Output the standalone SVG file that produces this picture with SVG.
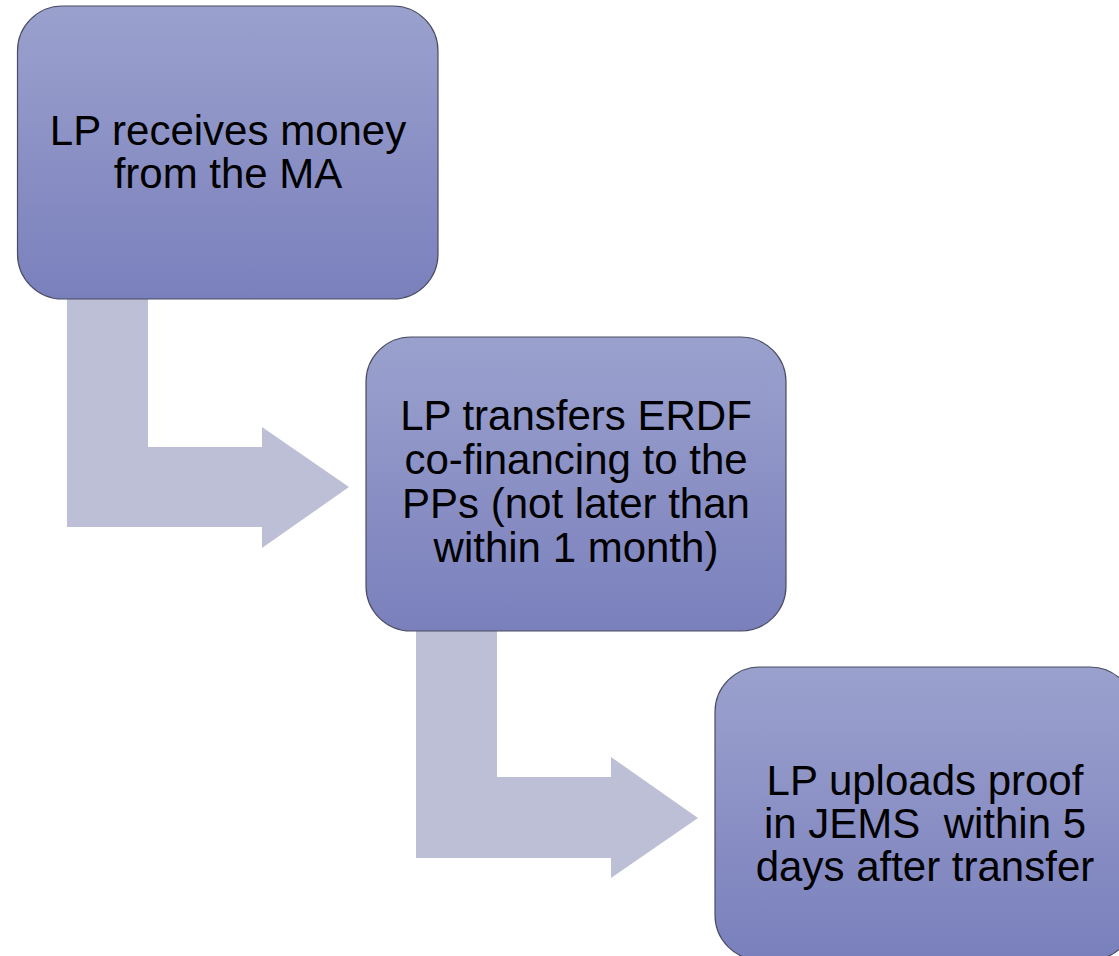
<svg xmlns="http://www.w3.org/2000/svg" width="1119" height="956" viewBox="0 0 1119 956">
<style>
.box{fill:url(#g);stroke:#4a4d63;stroke-width:1.2}
.conn{fill:#bcbfd6;stroke:none}
.t{font-family:"Liberation Sans",Arial,sans-serif;font-size:42px;fill:#000;text-anchor:middle;white-space:pre}
</style>
<defs>
<linearGradient id="g" x1="0" y1="0" x2="0" y2="1">
<stop offset="0" stop-color="#9ba1cd"/>
<stop offset="1" stop-color="#7a80bc"/>
</linearGradient>
</defs>
<rect width="1119" height="956" fill="#fff"/>
<g id="connectors">
<polygon class="conn" points="67,299 148,299 148,447 262,447 262,427 349,487 262,548 262,527 67,527"/>
<polygon class="conn" points="416,631 497,631 497,777 611,777 611,757 698,818 611,878 611,858 416,858"/>
</g>
<g id="node1">
<rect class="box" x="17.5" y="6" width="420.5" height="293" rx="45" ry="45"/>
<text class="t" x="228" y="145">LP receives money</text>
<text class="t" x="228" y="188">from the MA</text>
</g>
<g id="node2">
<rect class="box" x="366" y="337" width="420" height="294" rx="45" ry="45"/>
<text class="t" x="576" y="430">LP transfers ERDF</text>
<text class="t" x="576" y="474">co-financing to the</text>
<text class="t" x="576" y="518">PPs (not later than</text>
<text class="t" x="576" y="562">within 1 month)</text>
</g>
<g id="node3">
<rect class="box" x="715" y="667" width="420" height="293" rx="45" ry="45"/>
<text class="t" x="925" y="795">LP uploads proof</text>
<text class="t" x="925" y="838">in JEMS  within 5</text>
<text class="t" x="925" y="881">days after transfer</text>
</g>
</svg>
